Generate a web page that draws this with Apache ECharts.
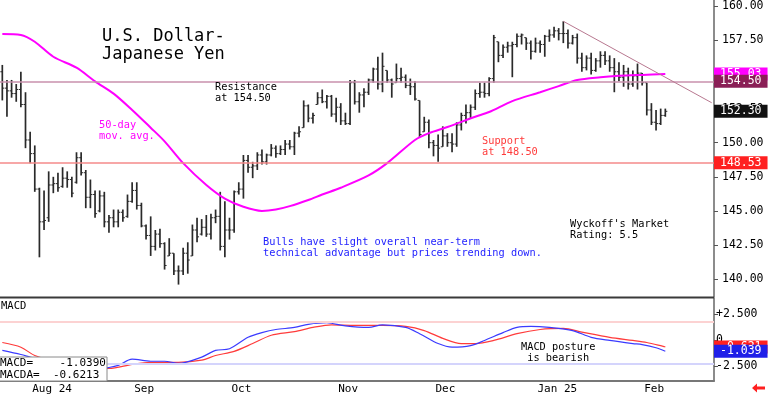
<!DOCTYPE html>
<html>
<head>
<meta charset="utf-8">
<script src="https://cdn.jsdelivr.net/npm/echarts@6.0.0/dist/echarts.min.js"></script>
<style>
  html, body { margin: 0; padding: 0; background: #fff; }
  #chart { width: 768px; height: 397px; }
</style>
</head>
<body>
<div id="chart"></div>
<script>
// daily bars, USD/JPY, late Jul 2024 -> Feb 2025
const opens = [
  155.2, 154.0, 153.8, 153.6, 153.9, 152.8, 150.2, 149.2, 146.6, 144.2,
  144.5, 146.9, 147.0, 146.8, 147.4, 147.3, 147.1, 148.9, 147.8, 146.0,
  146.2, 145.0, 146.1, 144.2, 144.5, 144.2, 144.9, 144.6, 145.7, 146.5,
  145.4, 143.9, 143.2, 142.4, 143.3, 142.6, 141.7, 141.9, 140.6, 140.6,
  141.9, 141.7, 143.6, 143.3, 143.8, 143.3, 144.5, 144.6, 142.4, 143.6,
  143.6, 146.4, 146.6, 148.7, 148.2, 148.3, 149.1, 148.6, 149.1, 149.6,
  149.2, 149.5, 149.9, 149.7, 150.7, 151.1, 152.7, 151.8, 152.8, 153.3,
  153.0, 153.4, 152.1, 152.6, 151.6, 151.4, 154.4, 153.0, 153.5, 153.7,
  154.6, 155.4, 154.3, 155.3, 154.6, 154.4, 154.7, 154.8, 154.2, 154.1,
  153.1, 150.8, 151.5, 150.0, 149.8, 149.7, 150.5, 150.0, 149.9, 151.3,
  152.0, 152.2, 152.6, 153.6, 153.7, 153.6, 154.7, 157.4, 156.4, 157.0,
  157.1, 157.2, 157.8, 157.7, 157.3, 156.7, 157.3, 157.2, 157.8, 157.9,
  158.2, 158.0, 158.0, 157.3, 157.7, 156.2, 155.5, 156.2, 155.3, 156.0,
  156.4, 156.0, 155.5, 155.2, 154.8, 155.2, 154.3, 154.9, 155.1, 154.4,
  152.4, 151.5, 151.4, 152.0
];
const highs = [
  155.7, 154.6, 154.6, 154.3, 155.2, 153.7, 150.8, 149.8, 146.7, 146.5,
  147.9, 147.5, 147.8, 148.2, 147.9, 147.5, 149.3, 149.3, 148.0, 147.3,
  146.5, 146.5, 146.4, 144.7, 145.1, 145.1, 145.1, 146.2, 147.1, 147.1,
  145.6, 144.0, 144.6, 143.6, 143.7, 142.7, 143.0, 141.9, 141.0, 142.3,
  142.7, 144.0, 144.5, 144.4, 144.7, 144.8, 145.1, 146.4, 145.7, 144.5,
  146.5, 147.1, 149.1, 149.1, 148.6, 149.3, 149.5, 149.2, 149.9, 149.8,
  149.8, 150.2, 150.2, 150.8, 151.2, 153.1, 152.8, 152.2, 153.7, 153.9,
  153.5, 153.5, 153.3, 152.9, 152.2, 154.6, 154.6, 153.7, 154.0, 154.7,
  155.5, 156.3, 156.6, 155.3, 154.7, 155.8, 155.5, 155.0, 154.7, 154.5,
  153.1, 151.9, 151.7, 150.2, 150.6, 151.2, 150.7, 150.7, 151.5, 152.2,
  152.8, 152.8, 153.9, 154.4, 154.4, 154.8, 157.9, 157.4, 157.2, 157.4,
  157.4, 158.0, 158.0, 157.7, 157.5, 157.7, 157.5, 157.9, 158.3, 158.5,
  158.4, 158.9, 158.3, 157.9, 158.0, 156.6, 156.4, 156.6, 156.2, 156.7,
  156.7, 156.4, 156.2, 155.9, 155.7, 155.5, 155.3, 155.8, 155.1, 154.4,
  152.9, 152.4, 152.5, 152.5
];
const lows = [
  153.1, 151.9, 153.3, 153.0, 152.6, 149.6, 148.5, 146.4, 141.6, 143.6,
  144.2, 146.3, 146.4, 146.7, 146.7, 146.0, 147.0, 147.6, 145.2, 145.2,
  144.5, 144.9, 143.8, 143.4, 143.8, 143.8, 144.2, 144.5, 145.6, 145.1,
  143.8, 142.9, 141.7, 142.1, 142.3, 140.7, 141.7, 140.3, 139.6, 140.3,
  140.4, 141.7, 142.7, 143.2, 143.1, 142.9, 144.1, 142.1, 141.6, 142.9,
  143.4, 146.2, 145.9, 147.8, 147.4, 148.0, 148.4, 148.4, 149.0, 148.9,
  149.1, 149.1, 149.5, 149.1, 150.4, 151.1, 151.5, 151.4, 152.8, 152.9,
  152.5, 151.9, 151.5, 151.3, 151.3, 151.3, 152.8, 152.2, 152.6, 153.5,
  154.4, 153.9, 153.7, 154.4, 153.3, 154.4, 154.4, 154.0, 153.5, 153.1,
  150.4, 150.8, 149.6, 149.0, 148.6, 149.7, 149.7, 149.3, 149.7, 150.9,
  151.4, 151.8, 152.4, 153.3, 153.3, 153.4, 154.4, 155.9, 156.2, 156.6,
  154.8, 157.0, 157.2, 156.8, 156.1, 156.6, 156.6, 156.3, 157.4, 157.7,
  157.5, 157.3, 156.9, 157.2, 155.8, 155.2, 155.3, 155.0, 155.2, 155.5,
  155.7, 155.2, 153.7, 154.5, 154.1, 153.9, 154.1, 153.9, 154.2, 152.0,
  151.3, 150.9, 151.3, 151.9
];
const closes = [
  154.0, 153.8, 153.6, 153.9, 152.8, 150.2, 149.2, 146.6, 144.2, 144.3,
  146.9, 147.0, 146.7, 147.4, 147.3, 146.3, 148.9, 147.8, 146.0, 146.2,
  144.8, 146.1, 144.2, 144.5, 144.2, 144.9, 144.5, 145.7, 146.5, 145.4,
  143.9, 143.2, 142.4, 143.3, 142.6, 141.0, 141.9, 140.6, 140.6, 141.9,
  141.4, 143.6, 143.1, 143.8, 143.3, 144.5, 144.6, 142.4, 143.6, 143.6,
  146.4, 146.6, 148.7, 148.2, 148.3, 149.1, 148.6, 149.1, 149.6, 149.2,
  149.5, 149.9, 149.7, 150.7, 150.8, 152.7, 151.8, 152.0, 153.3, 153.0,
  153.4, 152.1, 152.6, 151.6, 151.4, 154.4, 153.0, 153.5, 153.7, 154.6,
  155.4, 154.3, 155.6, 154.6, 154.3, 154.7, 154.8, 154.2, 154.1, 153.2,
  150.6, 151.5, 150.0, 149.8, 149.6, 150.5, 150.0, 149.9, 151.3, 152.0,
  152.2, 152.6, 153.6, 153.7, 153.6, 154.7, 157.7, 156.4, 157.0, 157.1,
  157.2, 157.8, 157.9, 157.3, 156.7, 157.3, 157.2, 157.8, 157.9, 158.2,
  158.0, 158.0, 157.3, 157.7, 156.2, 155.5, 156.2, 155.3, 156.0, 156.4,
  156.0, 155.5, 155.2, 154.8, 155.2, 154.3, 154.9, 155.1, 154.4, 152.4,
  151.5, 151.4, 152.0, 152.3
];

// 50-day moving average, read at [bar index, value]
const ma50 = [
  [0, 157.97], [4, 157.9], [7, 157.4], [11, 156.3], [16, 155.5], [20, 154.5],
  [24, 153.6], [28, 152.4], [32, 151.1], [35, 150.1], [39, 148.5], [44, 146.9],
  [48, 145.9], [52, 145.3], [56, 145.0], [59, 145.1], [62, 145.35], [66, 145.8],
  [69, 146.2], [73, 146.7], [79, 147.6], [83, 148.5], [89, 150.2], [92, 150.7],
  [96, 151.15], [102, 151.9], [105, 152.25], [110, 153.05], [116, 153.7],
  [120, 154.15], [124, 154.6], [129, 154.8], [133, 154.9], [138, 154.97], [143, 155.03]
];

// MACD panel
const macdLine = [
  [0, -0.96], [4, -1.35], [6, -1.6], [11, -2.2], [16, -2.6], [20, -2.75],
  [23, -2.6], [25, -2.4], [28, -1.8], [32, -2.0], [35, -2.0], [38, -2.2],
  [43, -1.6], [46, -0.96], [49, -0.8], [53, 0.3], [56, 0.75], [59, 1.05],
  [63, 1.25], [66, 1.55], [70, 1.7], [71, 1.65], [74, 1.4], [79, 1.25],
  [82, 1.5], [87, 1.25], [90, 0.65], [94, -0.3], [97, -0.65], [101, -0.5],
  [104, 0.0], [108, 0.75], [111, 1.25], [114, 1.35], [118, 1.25], [123, 0.95],
  [127, 0.3], [131, 0.0], [136, -0.3], [138, -0.4], [141, -0.7], [143, -1.039]
];
const macdSignal = [
  [0, -0.2], [4, -0.65], [7, -1.45], [12, -2.1], [17, -2.5], [23, -2.7],
  [28, -2.3], [32, -2.1], [38, -2.1], [43, -1.9], [46, -1.45], [50, -1.05],
  [54, -0.3], [58, 0.5], [63, 0.85], [67, 1.25], [71, 1.5], [76, 1.45],
  [82, 1.45], [87, 1.35], [91, 0.95], [95, 0.2], [99, -0.3], [102, -0.3],
  [106, 0.0], [111, 0.65], [116, 1.05], [121, 1.15], [125, 0.8], [131, 0.3],
  [136, 0.0], [139, -0.2], [143, -0.621]
];

const priceTicks = [140, 142.5, 145, 147.5, 150, 152.5, 155, 157.5, 160];
const macdTicks = [-2.5, 0, 2.5];
const trendStart = [121, 158.9];
const trendEnd = [153, 152.93];

// weekday calendar, with empty days to the right of the last bar
const dates = [];
(function () {
  const d = new Date(Date.UTC(2024, 6, 24));
  while (dates.length < 154) {
    const wd = d.getUTCDay();
    if (wd !== 0 && wd !== 6) dates.push(d.toISOString().slice(0, 10));
    d.setUTCDate(d.getUTCDate() + 1);
  }
})();
const monthNames = ['Jan', 'Feb', 'Mar', 'Apr', 'May', 'Jun', 'Jul', 'Aug', 'Sep', 'Oct', 'Nov', 'Dec'];
function isMonthStart(idx) {
  return idx > 0 && dates[idx].slice(5, 7) !== dates[idx - 1].slice(5, 7);
}
function monthLabel(value) {
  const m = parseInt(value.slice(5, 7), 10) - 1;
  let txt = monthNames[m];
  if (m === 0 || m === 7) txt += ' ' + value.slice(2, 4);
  return txt;
}

const FONT = '"DejaVu Sans Mono", monospace';
const bars = opens.map((o, i) => [i, o, highs[i], lows[i], closes[i]]);

function renderBar(params, api) {
  const i = api.value(0);
  const hi = api.coord([i, api.value(2)]);
  const lo = api.coord([i, api.value(3)]);
  const op = api.coord([i, api.value(1)]);
  const cl = api.coord([i, api.value(4)]);
  const x = hi[0];
  const tick = { stroke: '#2a2a2a', lineWidth: 1 };
  return {
    type: 'group',
    children: [
      { type: 'line', shape: { x1: x, y1: hi[1], x2: x, y2: lo[1] }, style: { stroke: '#2a2a2a', lineWidth: 1.7 } },
      { type: 'line', shape: { x1: x - 2, y1: op[1], x2: x, y2: op[1] }, style: tick },
      { type: 'line', shape: { x1: x, y1: cl[1], x2: x + 2, y2: cl[1] }, style: tick }
    ]
  };
}

// coloured value boxes sitting on the right axis
function boxLabel(text, bg) {
  return {
    show: true, position: 'end', distance: 0, formatter: text,
    color: '#fff', backgroundColor: bg, fontFamily: FONT, fontSize: 11.5,
    padding: [1, 6, 0, 6]
  };
}
const hidden = { color: 'transparent', width: 0 };

function txt(x, y, text, color, size, lh) {
  return {
    type: 'text', z: 100, x: x, y: y,
    style: { text: text, fill: color, font: size + 'px ' + FONT, lineHeight: lh, textVerticalAlign: 'top' }
  };
}

const chart = echarts.init(document.getElementById('chart'));
chart.setOption({
  animation: false,
  backgroundColor: '#fff',
  grid: [
    { left: 0, right: 54, top: 0, height: 297 },
    { left: 0, right: 54, top: 298, height: 83 }
  ],
  xAxis: [
    { type: 'category', gridIndex: 0, data: dates, show: false },
    {
      type: 'category', gridIndex: 1, data: dates,
      axisLine: { onZero: false, lineStyle: { color: '#777', width: 2 } },
      axisTick: { alignWithLabel: true, interval: isMonthStart, length: 15, lineStyle: { color: '#555' } },
      axisLabel: {
        interval: isMonthStart, formatter: monthLabel, align: 'left', margin: 3,
        padding: [0, 0, 0, 2], color: '#000', fontFamily: FONT, fontSize: 11
      },
      splitLine: { show: false }
    }
  ],
  yAxis: [
    {
      type: 'value', gridIndex: 0, position: 'right', min: 138.69, max: 160.46,
      axisLine: { show: true, lineStyle: { color: '#666', width: 1.5 } },
      axisTick: { show: true, length: 4, customValues: priceTicks, lineStyle: { color: '#555' } },
      axisLabel: {
        customValues: priceTicks, formatter: v => v.toFixed(2), margin: 8,
        color: '#000', fontFamily: FONT, fontSize: 11.5
      },
      splitLine: { show: false }
    },
    {
      type: 'value', gridIndex: 1, position: 'right', min: -3.9, max: 4.08,
      axisLine: { show: true, lineStyle: { color: '#666', width: 1.5 } },
      axisTick: { show: true, length: 4, customValues: macdTicks, lineStyle: { color: '#555' } },
      axisLabel: {
        customValues: macdTicks, margin: 2,
        formatter: v => (v > 0 ? '+' + v.toFixed(3) : v < 0 ? v.toFixed(3) : '0'),
        color: '#000', fontFamily: FONT, fontSize: 11.5
      },
      splitLine: { show: false }
    }
  ],
  series: [
    {
      type: 'custom', name: 'USDJPY', xAxisIndex: 0, yAxisIndex: 0,
      data: bars, encode: { x: 0, y: [1, 2, 3, 4] }, renderItem: renderBar, z: 3
    },
    {
      type: 'line', name: '50-day', xAxisIndex: 0, yAxisIndex: 0,
      data: ma50, smooth: 0.3, showSymbol: false, z: 4,
      lineStyle: { color: '#ff00ff', width: 2 },
      markLine: {
        silent: true, symbol: 'none', animation: false,
        data: [
          { yAxis: 155.03, lineStyle: hidden, label: boxLabel('155.03', '#ff00ff') },
          { yAxis: 154.5, lineStyle: { color: '#c890ac', width: 1.5, type: 'solid' }, label: boxLabel('154.50', '#8a1f56') },
          { yAxis: 152.3, lineStyle: hidden, label: boxLabel('152.30', '#111') },
          { yAxis: 148.53, lineStyle: { color: '#f58a8a', width: 1.5, type: 'solid' }, label: boxLabel('148.53', '#ff2020') },
          [
            { coord: trendStart, lineStyle: { color: '#b87890', width: 1, type: 'solid' }, label: { show: false } },
            { coord: trendEnd }
          ]
        ]
      }
    },
    {
      type: 'line', name: 'MACDA', xAxisIndex: 1, yAxisIndex: 1,
      data: macdSignal, smooth: 0.3, showSymbol: false,
      lineStyle: { color: '#ff3b3b', width: 1.2 },
      markLine: {
        silent: true, symbol: 'none', animation: false,
        data: [
          { yAxis: 1.8, lineStyle: { color: '#fcd2d2', width: 2, type: 'solid' }, label: { show: false } },
          { yAxis: -2.2, lineStyle: { color: '#d4d4fc', width: 2, type: 'solid' }, label: { show: false } },
          { yAxis: -0.621, lineStyle: hidden, label: boxLabel('-0.621', '#ff2020') }
        ]
      }
    },
    {
      type: 'line', name: 'MACD', xAxisIndex: 1, yAxisIndex: 1,
      data: macdLine, smooth: 0.3, showSymbol: false,
      lineStyle: { color: '#3b3bff', width: 1.2 },
      markLine: {
        silent: true, symbol: 'none', animation: false,
        data: [
          { yAxis: -1.039, lineStyle: hidden, label: boxLabel('-1.039', '#1f1fe8') }
        ]
      }
    }
  ],
  graphic: [
    { type: 'line', z: 90, shape: { x1: 0, y1: 297.5, x2: 714, y2: 297.5 }, style: { stroke: '#3a3a3a', lineWidth: 2 } },
    txt(102, 28, 'U.S. Dollar-\nJapanese Yen', '#000', 17, 18),
    txt(215, 82, 'Resistance\nat 154.50', '#000', 10.3, 11),
    txt(99, 120, '50-day\nmov. avg.', '#ff00ff', 10.3, 11),
    txt(482, 136, 'Support\nat 148.50', '#ff3b3b', 10.3, 11),
    txt(263, 237, 'Bulls have slight overall near-term\ntechnical advantage but prices trending down.', '#2424ff', 10.3, 11),
    txt(570, 219, "Wyckoff's Market\nRating: 5.5", '#000', 10.3, 11),
    txt(1, 300, 'MACD', '#000', 10.5, 12),
    txt(521, 342, 'MACD posture\n is bearish', '#000', 10.3, 11),
    {
      type: 'rect', z: 100, shape: { x: -1, y: 357, width: 108, height: 24 },
      style: { fill: '#fff', stroke: '#8a8a8a', lineWidth: 1 }
    },
    txt(0, 357, 'MACD=    -1.0390\nMACDA=  -0.6213', '#000', 11, 12),
    {
      type: 'polygon', z: 100,
      shape: { points: [[752, 388], [757, 383.5], [757, 386.5], [765, 386.5], [765, 389.5], [757, 389.5], [757, 392.5]] },
      style: { fill: '#ff2020' }
    }
  ]
});
</script>
</body>
</html>
